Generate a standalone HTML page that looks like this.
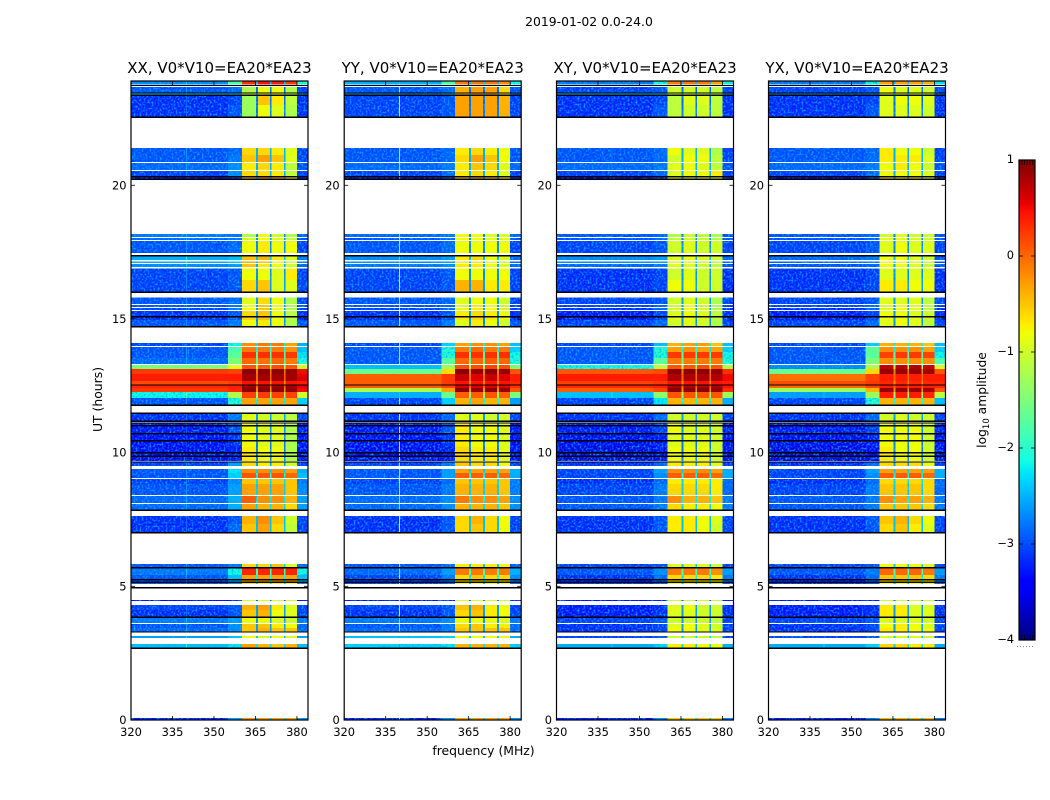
<!DOCTYPE html>
<html>
<head>
<meta charset="utf-8">
<title>2019-01-02 0.0-24.0</title>
<style>
html,body{margin:0;padding:0;background:#fff;}
svg{display:block;}
text{font-family:"DejaVu Sans","Liberation Sans",sans-serif;fill:#000;}
</style>
</head>
<body>
<svg id="chart" xmlns="http://www.w3.org/2000/svg" width="1050" height="800" viewBox="0 0 1050 800">
  <defs>
    <filter id="mottle" filterUnits="userSpaceOnUse" x="0" y="0" width="1050" height="800" color-interpolation-filters="sRGB">
      <feTurbulence type="fractalNoise" baseFrequency="0.5" numOctaves="2" seed="4" result="n"/>
      <feColorMatrix in="n" type="matrix" values="0 0 0 0 0  0 0 0 0 0.7  0 0 0 0 1  2.6 0 0 0 -1.15" result="c"/>
      <feComposite in="c" in2="SourceAlpha" operator="in" result="m"/>
      <feMerge><feMergeNode in="SourceGraphic"/><feMergeNode in="m"/></feMerge>
    </filter>
  </defs>
  <text x="589" y="26" font-size="12.4" text-anchor="middle">2019-01-02 0.0-24.0</text>
  <text x="483.5" y="755" font-size="12.4" text-anchor="middle">frequency (MHz)</text>
  <text transform="translate(102 399.5) rotate(-90)" font-size="12.4" text-anchor="middle">UT (hours)</text>
  <text transform="translate(986 400) rotate(-90)" font-size="12.3" text-anchor="middle">log<tspan font-size="8.5" dy="3">10</tspan><tspan dy="-3"> amplitude</tspan></text>
  <g id="panels"></g>
  <g id="colorbar"></g>
</svg>
<script>
// Time spans (UT hours) of each recorded row; anything between them is flagged and left white.
var timeRows = [
[23.77,23.90],[23.43,23.68],[23.38,23.43],[23.00,23.38],[22.55,23.00],
[21.13,21.39],[20.87,21.13],[20.57,20.83],[20.31,20.53],[20.23,20.31],
[18.07,18.18],[17.95,18.03],[17.47,17.92],[17.21,17.35],[17.09,17.15],
[16.94,17.06],[16.46,16.89],[16.01,16.46],[15.56,15.80],[15.45,15.52],
[15.34,15.41],[14.96,15.30],[14.70,14.96],[13.99,14.10],[13.76,13.95],
[13.54,13.76],[13.32,13.54],[13.13,13.28],[12.94,13.13],[12.68,12.94],
[12.53,12.68],[12.42,12.53],[12.27,12.42],[12.04,12.27],[11.78,12.04],
[11.18,11.48],[10.73,11.11],[10.21,10.73],[9.69,10.21],[9.50,9.63],
[9.24,9.39],[9.05,9.24],[8.83,9.01],[8.42,8.83],[8.12,8.38],
[7.85,8.08],[7.33,7.63],[6.99,7.33],[5.69,5.83],[5.42,5.69],
[5.16,5.42],[5.09,5.16],[4.94,4.97],[4.45,4.49],[4.11,4.30],
[3.85,4.11],[3.63,3.85],[3.44,3.59],[3.29,3.44],[3.07,3.14],
[2.69,2.84],[0,0.08]
];
// Frequency spans in MHz; the second entry of each is which value column fills that span.
var freqSpans = [
[320,355.1,"bg"],[355.1,360.1,"trans"],[360.1,365.2,"c1"],[365.2,365.9,"gap"],
[365.9,370.25,"c2"],[370.25,370.85,"gap"],[370.85,375.3,"c3"],[375.3,375.9,"gap"],
[375.9,380,"c4"],[380,384,"right"]
];
var valueColumns = ["bg","trans","c1","c2","c3","c4","right"];
// log10 amplitude of the narrow gaps between spectral windows, one per time row.
var gapValues = [-2.3,-2.8,-2.2,-2.8,-2.7,-2.4,-2.4,-2.4,-2.4,-2.4,-2.6,-2.6,-2.6,-2.3,-2.3,-2.4,-2.6,-2.5,-2.5,-2.5,-2.5,-2.6,-2.6,-2.0,-1.9,-1.7,-1.7,-1.2,-.1,.0,-.2,.0,-.2,-1.3,-1.9,-2.5,-2.6,-2.7,-2.7,-2.5,-2.2,-1.9,-2.1,-2.2,-2.0,-2.1,-2.3,-2.3,-2.2,-1.8,-2.0,-2.3,-2.4,-2.8,-2.5,-2.5,-2.5,-2.5,-2.5,-2.2,-2.1,-2.3];
// Vertical interference channels (MHz) and how far they stand above the background per panel.
var rfiChannels = [339.9];
var rfiBoost = [.25,2.3,.1,.1];
// Horizontal black (zero-amplitude) scans, UT hours.
var blackScans = [23.73,23.45,23.37,22.55,20.32,20.22,17.37,16.0,15.08,14.71,12.53,11.77,11.48,11.18,11.11,11.0,10.7,10.45,10.0,9.87,9.65,7.85,7.0,5.7,5.24,5.15,4.94,3.84,3.29,2.69];
var panelTitles = ["XX, V0*V10=EA20*EA23","YY, V0*V10=EA20*EA23","XY, V0*V10=EA20*EA23","YX, V0*V10=EA20*EA23"];
var freqTicks = [320,335,350,365,380];
var timeTicks = [0,5,10,15,20];
var colorTicks = [1,0,-1,-2,-3,-4];
var colorbarMinorOffsets = [.02,.04,.06,.08,.1];

// Rows: bg, transition, window1..4, right edge. log10 amplitude.
var xxValues = [
[-2.6,-1.8,.3,.45,.4,.25,-1.9],[-2.9,-2.8,-1.2,-.8,-.8,-1.2,-3.0],[-2.3,-2.2,-1.0,-.8,-.8,-1.1,-2.6],[-3.1,-3.0,-1.3,-.5,-.7,-1.1,-3.1],[-3.1,-2.9,-1.3,-.8,-.9,-1.2,-3.1],
[-2.9,-2.8,-.6,-.6,-.7,-.9,-3.0],[-2.9,-2.7,-.5,-.3,-.5,-.9,-3.0],[-2.8,-2.6,-.7,-.6,-.7,-1.1,-2.9],[-3.0,-2.6,-.6,-.6,-.7,-1.1,-3.0],[-3.3,-3.0,-.4,-.2,-.4,-.7,-3.1],
[-2.7,-2.7,-1.2,-.8,-1.0,-1.2,-2.8],[-2.8,-2.7,-1.0,-.8,-.9,-1.1,-2.9],[-2.9,-2.8,-.8,-.7,-.8,-.8,-3.0],[-2.4,-2.3,-.5,-.4,-.7,-.9,-2.7],[-2.4,-2.2,-.4,-.5,-.8,-1.0,-2.7],
[-2.6,-2.5,-.5,-.7,-.8,-1.0,-2.8],[-3.0,-2.9,-.8,-.8,-.9,-.7,-3.0],[-3.0,-2.9,-.6,-.5,-.9,-.9,-3.0],[-2.9,-2.8,-.9,-.6,-.8,-1.2,-3.0],[-2.9,-2.7,-.8,-.5,-.8,-1.2,-3.0],
[-3.0,-2.7,-.8,-.5,-.8,-1.2,-3.0],[-3.1,-2.9,-.6,-.5,-.8,-1.1,-3.1],[-2.9,-2.7,-.8,-.7,-.8,-1.2,-2.9],[-3.0,-2.0,-.2,-.1,-.1,-.3,-2.4],[-2.9,-1.8,-.1,-.1,-.1,-.2,-2.3],
[-2.9,-1.7,.3,.3,.3,.25,-2.1],[-2.8,-1.5,0,-.05,0,-.1,-1.9],[-1.5,-.9,.1,.1,.15,.1,-1.0],[.25,.2,.95,.95,.95,.9,.5],[.4,.4,.85,.85,.85,.85,.6],
[.15,.2,.45,.45,.45,.45,.4],[.35,.4,.85,.85,.85,.85,.55],[.25,.35,.95,.95,.95,.9,.5],[-2.0,-1.2,.2,.25,.2,.2,-1.0],[-2.9,-1.9,-.3,-.3,-.3,-.3,-2.2],
[-3.1,-2.7,-.9,-1.0,-1.0,-1.1,-3.0],[-3.2,-2.9,-.8,-.9,-.9,-1.2,-3.2],[-3.3,-3.1,-.8,-.9,-.9,-1.2,-3.3],[-3.4,-3.2,-.7,-.8,-.8,-1.2,-3.3],[-3.0,-2.5,-.6,-.7,-.7,-1.0,-3.0],
[-2.9,-2.1,-.2,-.2,-.2,-.3,-2.4],[-2.9,-2.2,.1,.1,.1,0,-2.3],[-3.0,-2.6,-.5,-.5,-.5,-.5,-2.7],[-2.9,-2.5,-.3,-.3,-.3,-.5,-2.6],[-2.8,-2.4,.05,-.2,-.2,-.4,-2.5],
[-2.8,-2.4,-.3,-.4,-.4,-.6,-2.5],[-3.1,-2.9,-.4,-.2,-.5,-1.0,-3.0],[-3.1,-2.8,-.5,-.3,-.6,-1.1,-3.0],[-2.9,-2.7,-.6,-.6,-.5,-.9,-2.8],[-2.7,-2.0,.35,.35,.35,.35,-2.0],
[-2.9,-2.3,-.3,-.3,-.3,-.3,-2.3],[-2.9,-2.6,-.6,-.7,-.7,-.8,-2.7],[-2.7,-2.4,-.5,-.5,-.5,-.6,-2.6],[-3.3,-3.2,-.9,-.9,-.9,-1.0,-3.2],[-3.0,-2.9,-.4,-.3,-.7,-.9,-3.0],
[-3.1,-2.9,-.5,-.4,-.8,-.9,-3.0],[-2.7,-2.5,-.8,-.8,-.9,-1.0,-2.7],[-2.9,-2.6,-.5,-.5,-.7,-.8,-2.8],[-2.8,-2.6,-.5,-.4,-.5,-.5,-2.8],[-2.5,-2.3,-.8,-.9,-.8,-.9,-2.5],
[-2.3,-2.1,-.3,-.4,-.5,-.4,-2.3],[-3.2,-2.5,-.2,-.3,-.3,-.3,-2.6]
];
var yyValues = [
[-2.4,-1.8,-.1,-.1,-.1,-.2,-2.0],[-2.9,-2.8,-.4,-.3,-.3,-.6,-2.9],[-2.6,-2.4,-.4,-.3,-.3,-.6,-2.7],[-3.0,-2.9,-.3,-.3,-.3,-.4,-3.0],[-3.0,-2.9,-.3,-.3,-.3,-.4,-3.0],
[-2.9,-2.8,-.7,-.6,-.7,-.8,-2.9],[-2.9,-2.8,-.6,-.3,-.5,-.8,-2.9],[-2.8,-2.7,-.7,-.5,-.6,-.9,-2.8],[-3.0,-2.8,-.7,-.6,-.7,-.9,-3.0],[-3.2,-3.0,-.5,-.4,-.5,-.7,-3.1],
[-2.8,-2.7,-.8,-.8,-.9,-.9,-2.8],[-2.9,-2.8,-.8,-.8,-.9,-.9,-2.9],[-2.9,-2.8,-.8,-.8,-.8,-.8,-3.0],[-2.6,-2.5,-.7,-.6,-.8,-.9,-2.8],[-2.6,-2.5,-.7,-.7,-.8,-.9,-2.8],
[-2.7,-2.6,-.7,-.7,-.8,-.9,-2.8],[-3.0,-2.9,-.8,-.8,-.8,-.8,-3.0],[-3.0,-2.9,-.4,-.4,-.7,-.7,-3.0],[-2.9,-2.8,-.9,-.8,-.8,-1.0,-3.0],[-2.9,-2.8,-.9,-.7,-.8,-1.0,-3.0],
[-3.0,-2.8,-.9,-.7,-.8,-1.0,-3.0],[-3.1,-2.9,-.7,-.6,-.7,-.8,-3.1],[-2.9,-2.7,-.9,-.7,-.8,-1.0,-2.9],[-3.0,-2.2,-.3,-.2,-.2,-.3,-2.3],[-2.9,-1.9,-.1,0,-.1,-.1,-2.2],
[-2.9,-1.9,.3,.3,.3,.3,-2.0],[-2.9,-1.7,0,0,.05,0,-1.9],[-2.3,-1.3,.15,.15,.2,.15,-1.5],[-1.6,-.6,.95,.9,.95,.9,.1],[.05,.25,.7,.6,.7,.6,.4],
[.05,.25,.45,.45,.45,.45,.35],[.05,.2,.6,.6,.6,.6,.3],[-1.2,-.3,.95,.9,.95,.9,.1],[-2.4,-1.6,.05,.05,.1,.05,-1.5],[-3.0,-2.2,-.4,-.3,-.4,-.4,-2.5],
[-3.1,-2.8,-.9,-.9,-1.0,-1.0,-3.0],[-3.2,-2.9,-.7,-.8,-.8,-.9,-3.2],[-3.3,-3.1,-.7,-.8,-.8,-.9,-3.3],[-3.4,-3.2,-.6,-.7,-.7,-.9,-3.3],[-3.0,-2.7,-.5,-.6,-.6,-.8,-3.0],
[-2.9,-2.5,-.3,-.3,-.3,-.3,-2.4],[-2.9,-2.5,.05,.05,.05,0,-2.4],[-3.0,-2.8,-.5,-.5,-.5,-.5,-2.7],[-2.9,-2.7,-.4,-.4,-.4,-.5,-2.7],[-2.8,-2.6,-.1,-.2,-.2,-.3,-2.6],
[-2.8,-2.6,-.4,-.4,-.4,-.5,-2.6],[-3.1,-2.9,-.6,-.4,-.6,-.8,-3.0],[-3.1,-2.9,-.6,-.5,-.6,-.8,-3.0],[-2.9,-2.8,-.7,-.7,-.7,-.8,-2.9],[-2.8,-2.5,-.1,-.1,-.1,-.1,-2.4],
[-3.0,-2.7,-.6,-.5,-.6,-.6,-2.6],[-3.0,-2.8,-.8,-.8,-.8,-.8,-2.8],[-2.8,-2.6,-.6,-.6,-.6,-.6,-2.7],[-3.3,-3.2,-.9,-.9,-.9,-1.0,-3.2],[-3.0,-2.9,-.5,-.4,-.7,-.8,-3.0],
[-3.1,-2.9,-.6,-.5,-.7,-.8,-3.0],[-2.7,-2.6,-.8,-.8,-.8,-.9,-2.7],[-2.9,-2.7,-.6,-.5,-.7,-.7,-2.8],[-2.8,-2.7,-.5,-.5,-.5,-.5,-2.8],[-2.3,-2.2,-.8,-.8,-.8,-.8,-2.4],
[-2.2,-2.1,-.4,-.4,-.4,-.4,-2.2],[-3.2,-2.6,-.3,-.3,-.3,-.3,-2.6]
];
var xyValues = [
[-2.7,-1.9,-.1,-.1,-.1,-.3,-2.0],[-3.0,-2.9,-1.0,-1.0,-1.0,-1.1,-3.0],[-2.4,-2.3,-1.0,-.9,-1.0,-1.1,-2.6],[-3.1,-3.0,-1.1,-.9,-.9,-1.1,-3.1],[-3.1,-2.9,-1.1,-1.0,-1.0,-1.1,-3.1],
[-2.9,-2.8,-.8,-.9,-.9,-1.2,-3.0],[-2.9,-2.8,-1.0,-.8,-.8,-1.1,-3.0],[-2.8,-2.7,-.9,-.8,-.9,-1.1,-2.9],[-3.0,-2.8,-.9,-.8,-.8,-.7,-3.0],[-3.3,-3.0,-.8,-.8,-.8,-.8,-3.1],
[-2.9,-2.8,-1.2,-1.0,-1.1,-1.2,-2.9],[-2.9,-2.8,-1.1,-1.0,-1.1,-1.2,-2.9],[-3.0,-2.9,-1.0,-.9,-1.0,-1.0,-3.0],[-2.6,-2.5,-.9,-.8,-.9,-1.0,-2.8],[-2.6,-2.5,-.9,-.9,-1.0,-1.1,-2.8],
[-2.8,-2.7,-.9,-.9,-1.0,-1.1,-2.9],[-3.1,-3.0,-1.0,-.9,-1.0,-1.0,-3.1],[-3.1,-3.0,-.8,-.8,-1.0,-1.0,-3.1],[-3.0,-2.9,-1.0,-.9,-1.0,-1.2,-3.0],[-3.0,-2.8,-1.0,-.8,-1.0,-1.2,-3.0],
[-3.1,-2.8,-1.0,-.8,-1.0,-1.2,-3.1],[-3.2,-3.0,-.9,-.8,-.9,-1.1,-3.1],[-3.0,-2.8,-1.0,-.9,-1.0,-1.2,-3.0],[-3.0,-2.3,-.4,-.3,-.3,-.5,-2.3],[-2.9,-1.9,-.3,-.2,-.3,-.3,-2.2],
[-2.9,-1.9,.25,.25,.25,.25,-2.0],[-2.9,-1.7,-.1,-.1,-.1,-.1,-1.9],[-2.0,-1.1,.1,.1,.15,.1,-1.2],[.1,.15,.95,.95,.95,.9,.3],[.4,.4,.8,.8,.8,.8,.5],
[.2,.25,.45,.45,.45,.45,.4],[.35,.4,.8,.8,.8,.8,.45],[.05,.2,.95,.95,.95,.9,.3],[-2.3,-1.4,.1,.1,.1,.1,-1.3],[-3.0,-2.1,-.4,-.4,-.4,-.4,-2.4],
[-3.1,-2.8,-1.0,-1.0,-1.0,-1.0,-3.0],[-3.2,-3.0,-.8,-.9,-.9,-1.0,-3.2],[-3.4,-3.2,-.9,-.9,-.9,-1.0,-3.3],[-3.5,-3.3,-.8,-.8,-.8,-1.0,-3.4],[-3.1,-2.8,-.7,-.7,-.7,-.9,-3.0],
[-3.0,-2.5,-.2,-.2,-.2,-.3,-2.4],[-3.0,-2.6,.05,.05,.05,0,-2.4],[-3.1,-2.8,-.7,-.7,-.7,-.7,-2.8],[-3.0,-2.7,-.6,-.6,-.6,-.7,-2.8],[-2.9,-2.7,-.2,-.4,-.4,-.5,-2.7],
[-2.9,-2.7,-.6,-.7,-.7,-.8,-2.7],[-3.1,-2.9,-.7,-.7,-.8,-.9,-3.0],[-3.1,-2.9,-.7,-.7,-.8,-1.0,-3.0],[-3.0,-2.9,-.9,-.9,-.9,-1.0,-3.0],[-2.9,-2.6,-.1,-.1,-.1,-.2,-2.5],
[-3.1,-2.8,-.6,-.6,-.6,-.7,-2.7],[-3.1,-2.9,-.9,-.9,-.9,-1.0,-2.9],[-2.9,-2.7,-.7,-.7,-.7,-.8,-2.8],[-3.3,-3.2,-1.0,-1.0,-1.0,-1.1,-3.2],[-3.2,-3.1,-.9,-.8,-1.0,-1.0,-3.1],
[-3.2,-3.1,-.9,-.9,-1.0,-1.0,-3.1],[-3.0,-2.9,-1.0,-1.0,-1.0,-1.1,-3.0],[-3.1,-3.0,-.9,-.8,-.9,-1.0,-3.0],[-3.1,-3.0,-.8,-.8,-.9,-.9,-3.0],[-3.0,-2.9,-1.0,-1.0,-1.0,-1.1,-3.0],
[-2.4,-2.2,-.7,-.7,-.8,-.8,-2.4],[-3.2,-2.6,-.5,-.5,-.5,-.5,-2.7]
];
var yxValues = [
[-2.7,-2.0,-.3,-.3,-.3,-.4,-2.1],[-3.0,-2.9,-.8,-.9,-.9,-1.0,-3.0],[-2.7,-2.6,-.9,-.9,-.9,-1.0,-2.8],[-3.1,-3.0,-.9,-.8,-.8,-.9,-3.1],[-3.1,-2.9,-.9,-.9,-.9,-1.0,-3.1],
[-2.9,-2.8,-.7,-.8,-.8,-1.0,-3.0],[-2.9,-2.8,-.7,-.7,-.7,-.9,-3.0],[-2.8,-2.7,-.8,-.7,-.8,-1.0,-2.9],[-3.0,-2.8,-.8,-.8,-.8,-.9,-3.0],[-3.3,-3.0,-.7,-.7,-.7,-.8,-3.1],
[-2.9,-2.8,-1.0,-.9,-1.0,-1.0,-2.9],[-2.9,-2.8,-.9,-.9,-1.0,-1.0,-2.9],[-3.0,-2.9,-.9,-.8,-.9,-.9,-3.0],[-2.8,-2.7,-.8,-.8,-.9,-1.0,-2.9],[-2.8,-2.7,-.8,-.8,-.9,-1.0,-2.9],
[-2.9,-2.8,-.8,-.8,-.9,-1.0,-2.9],[-3.1,-3.0,-.9,-.9,-.9,-.9,-3.1],[-3.1,-3.0,-.7,-.7,-.8,-.8,-3.1],[-3.0,-2.9,-.9,-.9,-.9,-1.1,-3.0],[-3.0,-2.8,-.9,-.8,-.9,-1.1,-3.0],
[-3.1,-2.8,-.9,-.8,-.9,-1.1,-3.1],[-3.2,-3.0,-.8,-.8,-.9,-1.0,-3.1],[-3.0,-2.8,-.9,-.8,-.9,-1.1,-3.0],[-3.0,-2.2,-.4,-.4,-.4,-.5,-2.3],[-2.9,-1.7,-.2,-.2,-.2,-.3,-2.2],
[-2.9,-1.7,.2,.25,.25,.2,-2.0],[-2.9,-1.5,-.2,-.2,-.2,-.2,-1.8],[-2.6,-1.2,.7,.75,.8,.7,-1.0],[-1.6,-.6,.9,.9,.9,.85,.1],[-.05,.2,.4,.4,.4,.4,.4],
[.15,.25,.35,.35,.35,.35,.35],[.0,.2,.4,.4,.4,.4,.35],[-1.3,-.4,.9,.9,.9,.85,.1],[-2.5,-1.3,.4,.4,.4,.35,-1.1],[-3.0,-1.9,-.4,-.4,-.4,-.4,-2.3],
[-3.1,-2.8,-1.0,-.9,-1.0,-1.0,-3.0],[-3.2,-3.0,-.8,-.8,-.8,-1.0,-3.2],[-3.4,-3.2,-.8,-.8,-.8,-1.0,-3.3],[-3.5,-3.3,-.7,-.8,-.8,-1.0,-3.4],[-3.1,-2.8,-.6,-.6,-.6,-.8,-3.0],
[-3.0,-2.5,-.3,-.3,-.3,-.3,-2.4],[-3.0,-2.6,.05,.05,.05,0,-2.4],[-3.1,-2.8,-.6,-.6,-.6,-.6,-2.8],[-3.0,-2.7,-.5,-.5,-.5,-.6,-2.8],[-2.9,-2.7,-.2,-.3,-.3,-.4,-2.7],
[-2.9,-2.7,-.5,-.5,-.5,-.6,-2.7],[-3.1,-2.9,-.5,-.4,-.6,-.8,-3.0],[-3.1,-2.9,-.6,-.5,-.7,-.9,-3.0],[-3.0,-2.9,-.8,-.8,-.8,-.9,-3.0],[-2.9,-2.7,.0,0,0,-.1,-2.5],
[-3.1,-2.8,-.5,-.5,-.5,-.6,-2.7],[-3.1,-2.9,-.8,-.8,-.8,-.9,-2.9],[-2.9,-2.7,-.7,-.7,-.7,-.8,-2.8],[-3.3,-3.2,-1.0,-1.0,-1.0,-1.0,-3.2],[-3.2,-3.1,-.7,-.7,-.9,-.9,-3.1],
[-3.2,-3.1,-.7,-.7,-.9,-.9,-3.1],[-3.0,-2.9,-.9,-.9,-.9,-1.0,-3.0],[-3.1,-3.0,-.8,-.7,-.8,-.9,-3.0],[-3.1,-3.0,-.7,-.7,-.8,-.8,-3.0],[-3.0,-2.9,-.9,-.9,-.9,-1.0,-3.0],
[-2.4,-2.2,-.6,-.6,-.7,-.7,-2.4],[-3.2,-2.7,-.4,-.4,-.4,-.4,-2.7]
];
var panelValues = [xxValues,yyValues,xyValues,yxValues];
var panelLefts = [131,344.2,556.5,768.5];

var NS = "http://www.w3.org/2000/svg";
var PANEL_W = 177, PLOT_TOP = 81, PLOT_BOTTOM = 720;
var FREQ_MIN = 320, FREQ_MAX = 384, TIME_MAX = 23.9;
var COLOR_MIN = -4, COLOR_MAX = 1;
var CB_X = 1019, CB_W = 16, CB_TOP = 160, CB_BOTTOM = 640;
// The speckle overlay brightens quiet cells; this pulls them back so the mean matches the colour scale.
var SPECKLE_COMPENSATION = -0.12;

function xScale(left, mhz){ return left + (mhz - FREQ_MIN) / (FREQ_MAX - FREQ_MIN) * PANEL_W; }
function yScale(hours){ return PLOT_BOTTOM - hours / TIME_MAX * (PLOT_BOTTOM - PLOT_TOP); }
function cbScale(v){ return CB_BOTTOM - (v - COLOR_MIN) / (COLOR_MAX - COLOR_MIN) * (CB_BOTTOM - CB_TOP); }
function clamp01(v){ return Math.max(0, Math.min(1, v)); }
function jet(v){
  var t = clamp01((v - COLOR_MIN) / (COLOR_MAX - COLOR_MIN));
  var r = clamp01(Math.min((t - .35) / .31, t < .89 ? 1 : 1 - (t - .89) / .11 * .5));
  var g = clamp01(t < .125 ? 0 : t < .375 ? (t - .125) / .25 : t < .64 ? 1 : 1 - (t - .64) / .27);
  var b = clamp01(t < .11 ? .5 + t / .11 * .5 : t < .34 ? 1 : 1 - (t - .34) / .31);
  return "rgb(" + Math.round(r * 255) + "," + Math.round(g * 255) + "," + Math.round(b * 255) + ")";
}
function make(tag, attrs, parent){
  var el = document.createElementNS(NS, tag);
  for (var k in attrs) el.setAttribute(k, attrs[k]);
  parent.appendChild(el);
  return el;
}

var panelsRoot = document.getElementById("panels");
panelTitles.forEach(function(title, p){
  var left = panelLefts[p], right = left + PANEL_W, values = panelValues[p];
  var panel = make("g", {}, panelsRoot);
  
  

  var quiet = make("g", {filter: "url(#mottle)", "shape-rendering": "crispEdges"}, panel);
  
  
  var bright = make("g", {"shape-rendering": "crispEdges"}, panel);
  
  

  timeRows.forEach(function(span, r){
    var row = values[r];
    var y0 = yScale(span[1]), y1 = yScale(span[0]);
    freqSpans.forEach(function(f){
      var v = f[2] === "gap" ? gapValues[r] : row[valueColumns.indexOf(f[2])];
      var isQuiet = v < -1.8;
      var x0 = xScale(left, f[0]), x1 = xScale(left, f[1]);
      var cell = make("rect", {x: x0, y: y0, width: x1 - x0, height: Math.max(y1 - y0, 1), fill: jet(isQuiet ? v + SPECKLE_COMPENSATION : v)}, isQuiet ? quiet : bright);
      
      
    });
    if (row[0] < -1.8) {
      rfiChannels.forEach(function(mhz){
        var line = make("rect", {x: xScale(left, mhz), y: y0, width: 1, height: Math.max(y1 - y0, 1), fill: jet(row[0] + rfiBoost[p])}, bright);
        
        
      });
    }
  });

  blackScans.forEach(function(h){
    var scan = make("line", {x1: left, x2: right, y1: yScale(h), y2: yScale(h), stroke: "#000", "stroke-width": 1.4, "shape-rendering": "crispEdges"}, panel);
    
    
  });

  var frame = make("rect", {x: left, y: PLOT_TOP, width: PANEL_W, height: PLOT_BOTTOM - PLOT_TOP, fill: "none", stroke: "#000", "stroke-width": 1.2}, panel);
  
  

  freqTicks.forEach(function(mhz){
    var x = xScale(left, mhz);
    [[PLOT_BOTTOM, PLOT_BOTTOM - 4], [PLOT_TOP, PLOT_TOP + 4]].forEach(function(seg){
      var tick = make("line", {x1: x, x2: x, y1: seg[0], y2: seg[1], stroke: "#000", "stroke-width": .8}, panel);
      
      
    });
    var label = make("text", {x: x, y: 736, "font-size": 11.4, "text-anchor": "middle"}, panel);
    
    
    label.textContent = mhz;
  });
  timeTicks.forEach(function(h){
    var y = yScale(h);
    [[left, left + 4], [right, right - 4]].forEach(function(seg){
      var tick = make("line", {x1: seg[0], x2: seg[1], y1: y, y2: y, stroke: "#000", "stroke-width": .8}, panel);
      
      
    });
    var label = make("text", {x: left - 4.5, y: y + 4, "font-size": 11.4, "text-anchor": "end"}, panel);
    
    
    label.textContent = h;
  });
  var heading = make("text", {x: left + 88.5, y: 73, "font-size": 15, "text-anchor": "middle"}, panel);
  
  
  heading.textContent = title;
});

var cbRoot = document.getElementById("colorbar");
for (var i = 0; i < 240; i++){
  var lo = COLOR_MIN + i / 240 * (COLOR_MAX - COLOR_MIN);
  var hi = COLOR_MIN + (i + 1) / 240 * (COLOR_MAX - COLOR_MIN);
  var seg = make("rect", {x: CB_X, y: cbScale(hi), width: CB_W, height: cbScale(lo) - cbScale(hi) + .5, fill: jet((lo + hi) / 2), "shape-rendering": "crispEdges"}, cbRoot);
  
  
}
var cbFrame = make("rect", {x: CB_X, y: CB_TOP, width: CB_W, height: CB_BOTTOM - CB_TOP, fill: "none", stroke: "#000", "stroke-width": 1.2}, cbRoot);


colorTicks.forEach(function(v){
  var y = cbScale(v);
  [[CB_X, CB_X + 4], [CB_X + CB_W, CB_X + CB_W - 4]].forEach(function(s){
    var t = make("line", {x1: s[0], x2: s[1], y1: y, y2: y, stroke: "#000", "stroke-width": .8}, cbRoot);
    
    
  });
  var lab = make("text", {x: 1014, y: y + 3, "font-size": 11.4, "text-anchor": "end"}, cbRoot);
  
  
  lab.textContent = v < 0 ? "\u2212" + Math.abs(v) : v;
});
colorbarMinorOffsets.forEach(function(o, i){
  var x = CB_X + 3 + i * 2.6;
  [[CB_TOP, CB_TOP + 5], [CB_BOTTOM, CB_BOTTOM - 5]].forEach(function(s){
    var t = make("line", {x1: x, x2: x, y1: s[0], y2: s[1], stroke: "#000", "stroke-width": .7}, cbRoot);
    
    
  });
});
var dots = make("line", {x1: 1017, x2: 1035, y1: 646.5, y2: 646.5, stroke: "#888", "stroke-width": 1, "stroke-dasharray": "1 2"}, cbRoot);


</script>
</body>
</html>
